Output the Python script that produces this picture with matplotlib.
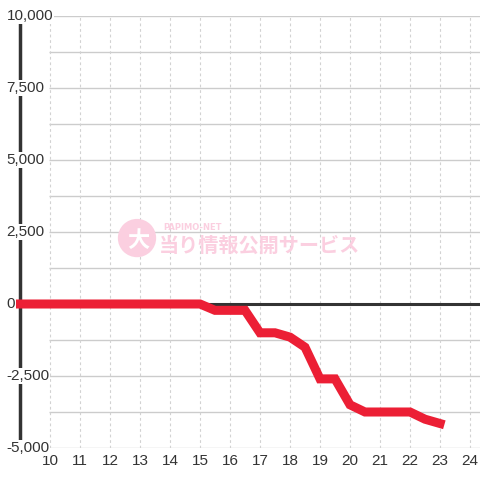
import matplotlib
matplotlib.use("Agg")
import matplotlib.pyplot as plt

# data (hour of day, balance)
hours = [9, 9.5, 10, 10.5, 11, 11.5, 12, 12.5, 13, 13.5, 14, 14.5, 15, 15.5,
         16, 16.5, 17, 17.5, 18, 18.5, 19, 19.5, 20, 20.5, 21, 21.5, 22, 22.5, 23]
balance = [0, 0, 0, 0, 0, 0, 0, 0, 0, 0, 0, 0, 0, -220,
           -220, -220, -1000, -1000, -1150, -1500, -2600, -2600, -3500, -3750,
           -3750, -3750, -3750, -4000, -4150]

x_ticks = list(range(10, 25))
y_ticks = [-5000, -2500, 0, 2500, 5000, 7500, 10000]
y_grid = [-5000, -3750, -2500, -1250, 1250, 2500, 3750, 5000, 6250, 7500, 8750, 10000]

RED = '#ec1f35'
DARK = '#333333'
GRID = '#cccccc'
PINK = '#fbcfe0'

plt.rcParams['font.family'] = ['Liberation Sans', 'DejaVu Sans']

fig = plt.figure(figsize=(4.8, 4.8), dpi=100)
ax = fig.add_axes([20 / 480, 32 / 480, 460 / 480, 432 / 480])
ax.set_xlim(9, 24 + 1 / 3)
ax.set_ylim(-5000, 10000)
for s in ax.spines.values():
    s.set_visible(False)
ax.set_xticks([])
ax.set_yticks([])

# grid
ax.hlines(y_grid, 9.95, 24 + 1 / 3, colors=GRID, lw=1, zorder=1)
ax.vlines(x_ticks, -5000, 10000, colors='#d2d2d2', lw=0.8,
          linestyles=(0, (2.5, 2.5)), zorder=1)

# zero line and left axis
ax.axhline(0, color=DARK, lw=2.2, zorder=2)
ax.plot([9, 9], [-5000, 9750], color=DARK, lw=2.5, clip_on=False, zorder=3,
        solid_capstyle='butt')

# watermark
ax.scatter([12.9], [2290], s=760, color=PINK, edgecolors='none', zorder=2)
ax.text(12.95, 2200, '大', fontsize=16, ha='center', va='center', color='white',
        fontweight='bold', family=['Noto Sans CJK JP'], zorder=3)
ax.text(13.78, 2640, 'PAPIMO-NET', fontsize=6, ha='left', va='center',
        color=PINK, family=['DejaVu Sans'], fontweight='bold', zorder=2)
ax.text(13.62, 2030, '当り情報公開サービス', fontsize=14.5, ha='left', va='center',
        fontweight='bold', color=PINK, family=['Noto Sans CJK JP', 'DejaVu Sans'],
        zorder=2)

# series
ax.plot(hours, balance, color=RED, lw=6.5, zorder=4, solid_joinstyle='miter',
        solid_capstyle='projecting', clip_on=False)

# y labels drawn over the axis line
for v in y_ticks:
    ax.text(8.55, v, f'{v:,}', fontsize=11, color=DARK, ha='left', va='center',
            clip_on=False, zorder=5,
            bbox=dict(boxstyle='square,pad=0.05', fc='white', ec='none'))

# x labels
for h in x_ticks:
    ax.text(h, -5450, str(h), fontsize=11, color=DARK, ha='center', va='center',
            clip_on=False)

fig.savefig('out.png', dpi=100)
